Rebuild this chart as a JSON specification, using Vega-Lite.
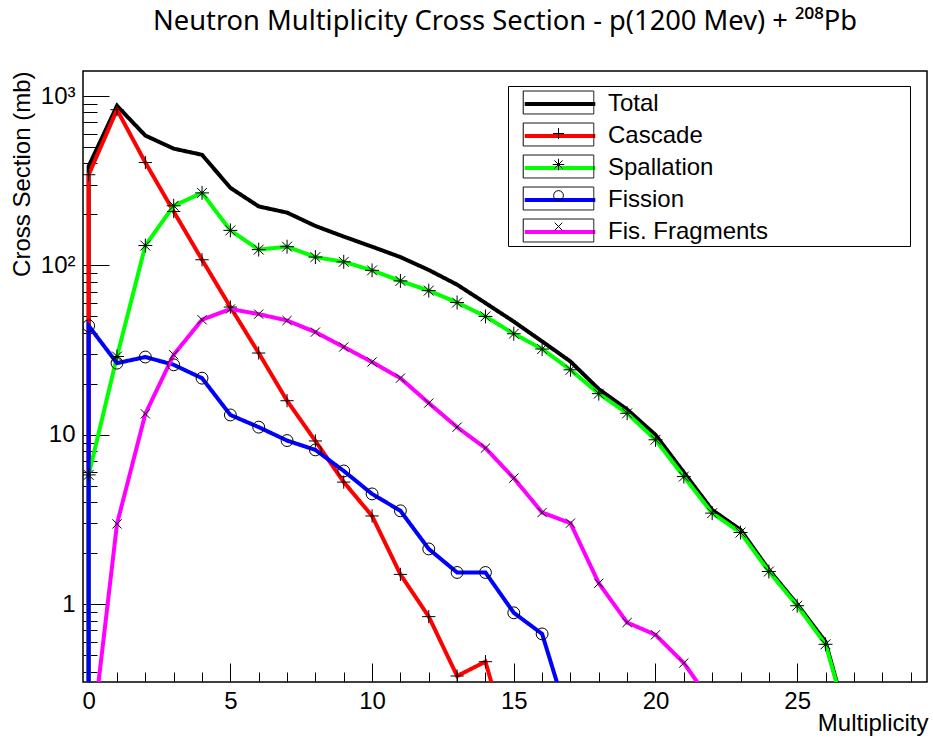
{
  "$schema": "https://vega.github.io/schema/vega-lite/v6.json",
  "width": 844,
  "height": 611,
  "autosize": {"type": "none"},
  "padding": {"left": 83, "top": 71, "right": 6, "bottom": 56},
  "background": "white",
  "config": {"font": "Liberation Sans", "view": {"stroke": "black", "strokeWidth": 1.5}, "axis": {"labelOverlap": false}},
  "title": {"text": "Neutron Multiplicity Cross Section - p(1200 Mev) +  ²⁰⁸Pb", "fontSize": 27.3, "fontWeight": "normal", "font": "Noto Sans", "color": "black", "anchor": "middle", "frame": "group", "offset": 36},
  "data": {"values": [
    {"s": "Total", "x": 0, "y": 0.01}, {"s": "Total", "x": 0, "y": 385}, {"s": "Total", "x": 1, "y": 875}, {"s": "Total", "x": 2, "y": 584}, {"s": "Total", "x": 3, "y": 489}, {"s": "Total", "x": 4, "y": 450}, {"s": "Total", "x": 5, "y": 287}, {"s": "Total", "x": 6, "y": 223}, {"s": "Total", "x": 7, "y": 205}, {"s": "Total", "x": 8, "y": 171}, {"s": "Total", "x": 9, "y": 148}, {"s": "Total", "x": 10, "y": 129}, {"s": "Total", "x": 11, "y": 112}, {"s": "Total", "x": 12, "y": 94}, {"s": "Total", "x": 13, "y": 77}, {"s": "Total", "x": 14, "y": 60}, {"s": "Total", "x": 15, "y": 46.6}, {"s": "Total", "x": 16, "y": 35.6}, {"s": "Total", "x": 17, "y": 27.1}, {"s": "Total", "x": 18, "y": 18.6}, {"s": "Total", "x": 19, "y": 14.1}, {"s": "Total", "x": 20, "y": 10.0}, {"s": "Total", "x": 21, "y": 6.0}, {"s": "Total", "x": 22, "y": 3.6}, {"s": "Total", "x": 23, "y": 2.75}, {"s": "Total", "x": 24, "y": 1.6}, {"s": "Total", "x": 25, "y": 1.0}, {"s": "Total", "x": 26, "y": 0.6}, {"s": "Total", "x": 27, "y": 0.15},
    {"s": "Cascade", "x": 0, "y": 0.01}, {"s": "Cascade", "x": 0, "y": 343}, {"s": "Cascade", "x": 1, "y": 830}, {"s": "Cascade", "x": 2, "y": 405}, {"s": "Cascade", "x": 3, "y": 208}, {"s": "Cascade", "x": 4, "y": 108}, {"s": "Cascade", "x": 5, "y": 56.8}, {"s": "Cascade", "x": 6, "y": 30.4}, {"s": "Cascade", "x": 7, "y": 15.9}, {"s": "Cascade", "x": 8, "y": 9.2}, {"s": "Cascade", "x": 9, "y": 5.26}, {"s": "Cascade", "x": 10, "y": 3.32}, {"s": "Cascade", "x": 11, "y": 1.5}, {"s": "Cascade", "x": 12, "y": 0.845}, {"s": "Cascade", "x": 13, "y": 0.377}, {"s": "Cascade", "x": 14, "y": 0.458}, {"s": "Cascade", "x": 15, "y": 0.12},
    {"s": "Spallation", "x": 0, "y": 0.01}, {"s": "Spallation", "x": 0, "y": 5.8}, {"s": "Spallation", "x": 1, "y": 29}, {"s": "Spallation", "x": 2, "y": 131}, {"s": "Spallation", "x": 3, "y": 225}, {"s": "Spallation", "x": 4, "y": 268}, {"s": "Spallation", "x": 5, "y": 161}, {"s": "Spallation", "x": 6, "y": 124}, {"s": "Spallation", "x": 7, "y": 129}, {"s": "Spallation", "x": 8, "y": 112}, {"s": "Spallation", "x": 9, "y": 105}, {"s": "Spallation", "x": 10, "y": 93.5}, {"s": "Spallation", "x": 11, "y": 81}, {"s": "Spallation", "x": 12, "y": 71}, {"s": "Spallation", "x": 13, "y": 60.4}, {"s": "Spallation", "x": 14, "y": 50}, {"s": "Spallation", "x": 15, "y": 39.5}, {"s": "Spallation", "x": 16, "y": 32.1}, {"s": "Spallation", "x": 17, "y": 24.2}, {"s": "Spallation", "x": 18, "y": 17.5}, {"s": "Spallation", "x": 19, "y": 13.4}, {"s": "Spallation", "x": 20, "y": 9.35}, {"s": "Spallation", "x": 21, "y": 5.67}, {"s": "Spallation", "x": 22, "y": 3.45}, {"s": "Spallation", "x": 23, "y": 2.65}, {"s": "Spallation", "x": 24, "y": 1.56}, {"s": "Spallation", "x": 25, "y": 0.98}, {"s": "Spallation", "x": 26, "y": 0.58}, {"s": "Spallation", "x": 27, "y": 0.15},
    {"s": "Fission", "x": 0, "y": 0.01}, {"s": "Fission", "x": 0, "y": 44}, {"s": "Fission", "x": 1, "y": 26.5}, {"s": "Fission", "x": 2, "y": 28.8}, {"s": "Fission", "x": 3, "y": 25.9}, {"s": "Fission", "x": 4, "y": 21.6}, {"s": "Fission", "x": 5, "y": 13.1}, {"s": "Fission", "x": 6, "y": 11.1}, {"s": "Fission", "x": 7, "y": 9.25}, {"s": "Fission", "x": 8, "y": 8.15}, {"s": "Fission", "x": 9, "y": 6.12}, {"s": "Fission", "x": 10, "y": 4.48}, {"s": "Fission", "x": 11, "y": 3.56}, {"s": "Fission", "x": 12, "y": 2.12}, {"s": "Fission", "x": 13, "y": 1.54}, {"s": "Fission", "x": 14, "y": 1.54}, {"s": "Fission", "x": 15, "y": 0.89}, {"s": "Fission", "x": 16, "y": 0.668}, {"s": "Fission", "x": 17, "y": 0.19},
    {"s": "Fis. Fragments", "x": 0, "y": 0.11}, {"s": "Fis. Fragments", "x": 1, "y": 2.98}, {"s": "Fis. Fragments", "x": 2, "y": 13.3}, {"s": "Fis. Fragments", "x": 3, "y": 29.7}, {"s": "Fis. Fragments", "x": 4, "y": 47.8}, {"s": "Fis. Fragments", "x": 5, "y": 55.3}, {"s": "Fis. Fragments", "x": 6, "y": 51.6}, {"s": "Fis. Fragments", "x": 7, "y": 47.3}, {"s": "Fis. Fragments", "x": 8, "y": 40.4}, {"s": "Fis. Fragments", "x": 9, "y": 33.0}, {"s": "Fis. Fragments", "x": 10, "y": 26.9}, {"s": "Fis. Fragments", "x": 11, "y": 21.6}, {"s": "Fis. Fragments", "x": 12, "y": 15.4}, {"s": "Fis. Fragments", "x": 13, "y": 11.1}, {"s": "Fis. Fragments", "x": 14, "y": 8.35}, {"s": "Fis. Fragments", "x": 15, "y": 5.55}, {"s": "Fis. Fragments", "x": 16, "y": 3.48}, {"s": "Fis. Fragments", "x": 17, "y": 3.01}, {"s": "Fis. Fragments", "x": 18, "y": 1.33}, {"s": "Fis. Fragments", "x": 19, "y": 0.78}, {"s": "Fis. Fragments", "x": 20, "y": 0.66}, {"s": "Fis. Fragments", "x": 21, "y": 0.45}, {"s": "Fis. Fragments", "x": 22, "y": 0.26}
  ]},
  "encoding": {
    "x": {"field": "x", "type": "quantitative",
      "scale": {"domain": [-0.2, 29.58], "nice": false, "zero": false},
      "axis": {
        "values": [0,1,2,3,4,5,6,7,8,9,10,11,12,13,14,15,16,17,18,19,20,21,22,23,24,25,26,27,28,29],
        "format": "d",
        "labelExpr": "datum.value % 5 === 0 ? datum.label : ''",
        "tickSize": {"condition": {"test": "datum.value % 5 === 0", "value": -19}, "value": -10},
        "tickColor": "black", "tickWidth": 1, "domain": false, "grid": false,
        "labelFontSize": 24, "labelColor": "black", "labelPadding": 26, "labelOverlap": false, "labelFlush": false,
        "title": "Multiplicity", "titleFontSize": 24, "titleFontWeight": "normal", "titleColor": "black",
        "titleAnchor": "end", "titleAlign": "right", "titleX": 845, "titleY": 48, "titleBaseline": "alphabetic"
      }
    },
    "y": {"field": "y", "type": "quantitative",
      "scale": {"type": "log", "domain": [0.3475, 1405], "nice": false},
      "axis": {
        "values": [0.4,0.5,0.6,0.7,0.8,0.9,1,2,3,4,5,6,7,8,9,10,20,30,40,50,60,70,80,90,100,200,300,400,500,600,700,800,900,1000],
        "labelExpr": "datum.value === 1000 ? '10³' : datum.value === 100 ? '10²' : datum.value === 10 ? '10' : datum.value === 1 ? '1' : ''",
        "tickSize": {"condition": {"test": "datum.value === 1 || datum.value === 10 || datum.value === 100 || datum.value === 1000", "value": -26}, "value": -14},
        "tickColor": "black", "tickWidth": 1, "domain": false, "grid": false,
        "labelFontSize": 24, "labelColor": "black", "labelPadding": 34, "labelOverlap": false, "labelFlush": false,
        "title": "Cross Section (mb)", "titleFontSize": 24, "titleFontWeight": "normal", "titleColor": "black",
        "titleAngle": -90, "titleAnchor": "end", "titleAlign": "right", "titleX": -54, "titleY": 0, "titleBaseline": "alphabetic"
      }
    }
  },
  "layer": [
    {
      "mark": {"type": "line", "strokeWidth": 4, "clip": true},
      "encoding": {
        "stroke": {"field": "s", "type": "nominal",
          "scale": {"domain": ["Total", "Cascade", "Spallation", "Fission", "Fis. Fragments"], "range": ["#000000", "#ff0000", "#00ff00", "#0000ff", "#ff00ff"]},
          "legend": {
            "title": null, "orient": "none", "legendX": 425, "legendY": 15, "padding": 2,
            "fillColor": "white",
            "symbolType": "M-2.52,0H2.52", "symbolSize": 784, "symbolStrokeWidth": 4, "symbolFillColor": "transparent",
            "symbolOffset": 34, "labelOffset": 32, "labelFontSize": 24, "labelColor": "black", "labelLimit": 0,
            "rowPadding": 4, "zindex": 1
          }
        },
        "strokeDash": {"field": "s", "type": "nominal",
          "sort": ["Total", "Cascade", "Spallation", "Fission", "Fis. Fragments"],
          "scale": {"range": [[1, 0], [1, 0], [1, 0], [1, 0], [1, 0]]},
          "legend": {
            "title": null, "orient": "none", "legendX": 425, "legendY": 15, "padding": 2,
            "strokeColor": "black",
            "symbolType": "M-2.52,-0.82H2.52V0.82H-2.52ZM24.8,0", "symbolSize": 784, "symbolStrokeWidth": 1,
            "symbolStrokeColor": "black", "symbolFillColor": "transparent",
            "symbolOffset": 34, "labelOffset": 32, "labelFontSize": 24, "labelLimit": 0,
            "labelExpr": "' '",
            "rowPadding": 4, "zindex": 2
          }
        }
      }
    },
    {
      "transform": [{"filter": "datum.y > 0.3"}],
      "mark": {"type": "point", "filled": false, "color": "black", "strokeWidth": 1, "size": 1156, "opacity": 1, "clip": true},
      "encoding": {
        "shape": {"field": "s", "type": "nominal",
          "sort": ["Total", "Cascade", "Spallation", "Fission", "Fis. Fragments"],
          "scale": {"range": ["M0,0", "M-0.39,0H0.39M0,-0.39V0.39", "M-0.41,0H0.41M0,-0.41V0.41M-0.29,-0.29L0.29,0.29M-0.29,0.29L0.29,-0.29", "M0.35,0A0.35,0.35,0,1,1,-0.35,0A0.35,0.35,0,1,1,0.35,0", "M-0.27,-0.27L0.27,0.27M-0.27,0.27L0.27,-0.27"]},
          "legend": {
            "title": null, "orient": "none", "legendX": 425, "legendY": 15, "padding": 2,
            "symbolSize": 784, "symbolStrokeWidth": 1, "symbolStrokeColor": "black", "symbolFillColor": "transparent",
            "symbolOffset": 34, "labelOffset": 32, "labelFontSize": 24, "labelLimit": 0,
            "labelExpr": "' '",
            "rowPadding": 4, "zindex": 3
          }
        }
      }
    }
  ]
}
